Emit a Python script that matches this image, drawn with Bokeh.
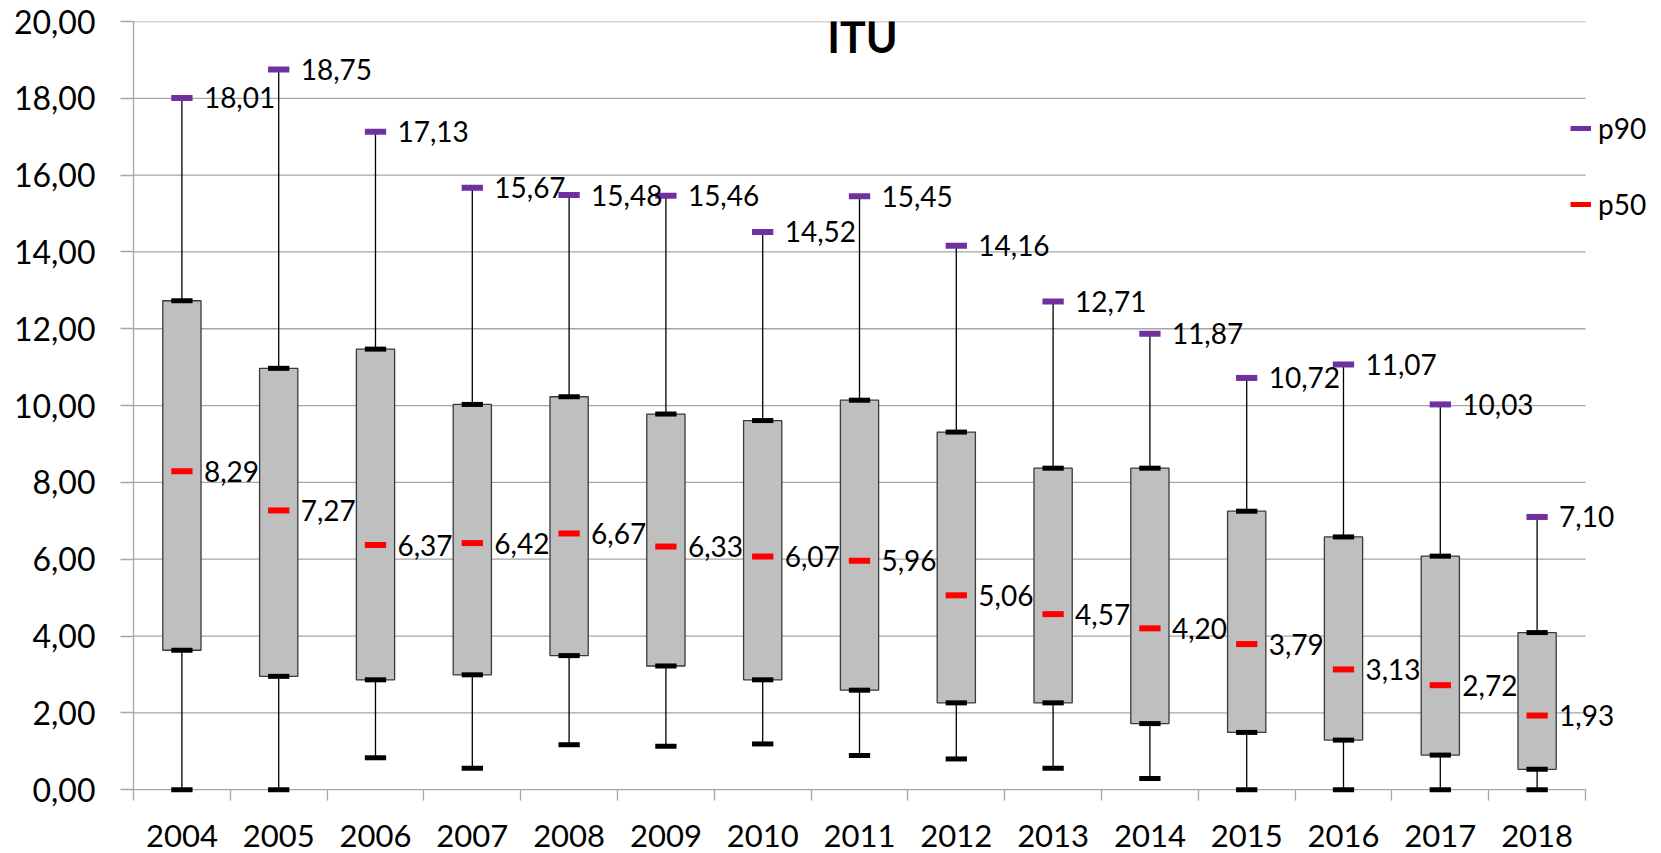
import numpy as np
from bokeh.plotting import figure
from bokeh.models import (ColumnDataSource, Range1d, FixedTicker, LabelSet, Label,
                          Legend, LegendItem)
from bokeh.core.properties import value
from bokeh.embed import file_html
from bokeh.resources import INLINE

# ---------------- data ----------------
years = ["2004", "2005", "2006", "2007", "2008", "2009", "2010", "2011",
         "2012", "2013", "2014", "2015", "2016", "2017", "2018"]
p_min = [0.00, 0.00, 0.83, 0.56, 1.17, 1.13, 1.19, 0.89, 0.80, 0.56, 0.29, 0.00, 0.00, 0.00, 0.00]
q1 = [3.63, 2.95, 2.86, 2.99, 3.49, 3.22, 2.86, 2.59, 2.26, 2.26, 1.72, 1.49, 1.29, 0.90, 0.53]
p50 = [8.29, 7.27, 6.37, 6.42, 6.67, 6.33, 6.07, 5.96, 5.06, 4.57, 4.20, 3.79, 3.13, 2.72, 1.93]
q3 = [12.73, 10.97, 11.47, 10.03, 10.23, 9.78, 9.61, 10.14, 9.31, 8.37, 8.37, 7.25, 6.58, 6.08, 4.09]
p90 = [18.01, 18.75, 17.13, 15.67, 15.48, 15.46, 14.52, 15.45, 14.16, 12.71, 11.87, 10.72, 11.07, 10.03, 7.10]
y_ticks = [0, 2, 4, 6, 8, 10, 12, 14, 16, 18, 20]
y_tick_labels = ["0,00", "2,00", "4,00", "6,00", "8,00", "10,00", "12,00",
                 "14,00", "16,00", "18,00", "20,00"]
title_text = "ITU"
legend_labels = ["p90", "p50"]

# ---------------- styles ----------------
FONT = "Lato"
GRID = "#a6a6a6"
PURPLE = "#7030a0"
RED = "#ff0000"
BOX = "#bfbfbf"


def fmt(v):
    return f"{v:.2f}".replace(".", ",")


n = len(years)
xc = np.arange(n) + 0.5
q1a, q3a = np.array(q1), np.array(q3)
src = ColumnDataSource(dict(
    x=xc, pmin=p_min, q1=q1, p50=p50, q3=q3, p90=p90,
    mid=(q1a + q3a) / 2, h=q3a - q1a,
    lab50=[fmt(v) for v in p50], lab90=[fmt(v) for v in p90],
))

W, H = 1661, 853
LEFT, TOP, BOTTOM = 133, 21, 60
# frame extends to the right canvas edge so labels/legend beyond the last category stay visible
x_end = n * (W - LEFT) / 1452.0

p = figure(width=W, height=H, x_range=Range1d(0, x_end), y_range=Range1d(-0.1, 20),
           output_backend="svg", toolbar_location=None,
           min_border_left=LEFT, min_border_right=0, min_border_top=TOP, min_border_bottom=BOTTOM)
p.outline_line_color = None
p.background_fill_color = "white"
p.border_fill_color = "white"

# grid drawn as segments limited to the category span
p.xgrid.grid_line_color = None
p.ygrid.grid_line_color = None
p.segment(x0=[0] * len(y_ticks), x1=[n] * len(y_ticks), y0=y_ticks, y1=y_ticks,
          line_color=GRID, line_width=1.3)

# y axis
p.yaxis.ticker = FixedTicker(ticks=y_ticks, minor_ticks=[])
p.yaxis.major_label_overrides = {t: l for t, l in zip(y_ticks, y_tick_labels)}
p.yaxis.axis_line_color = GRID
p.yaxis.axis_line_width = 1.3
p.yaxis.major_tick_line_color = GRID
p.yaxis.major_tick_line_width = 1.3
p.yaxis.major_tick_in = 0
p.yaxis.major_tick_out = 13
p.yaxis.minor_tick_line_color = None
p.yaxis.major_label_standoff = 25
p.yaxis.major_label_text_font = FONT
p.yaxis.major_label_text_font_size = "32px"
p.yaxis.major_label_text_color = "black"

# x axis: labels at category centres, tick marks at category boundaries
p.xaxis.ticker = FixedTicker(ticks=list(xc), minor_ticks=list(range(n + 1)))
p.xaxis.major_label_overrides = {float(x): y for x, y in zip(xc, years)}
p.xaxis.axis_line_color = None
p.xaxis.major_tick_line_color = None
p.xaxis.major_tick_in = 0
p.xaxis.major_tick_out = 0
p.xaxis.major_label_standoff = 24
p.xaxis.major_label_text_font = FONT
p.xaxis.major_label_text_font_size = "31px"
p.xaxis.major_label_text_color = "black"
p.xaxis.minor_tick_line_color = GRID
p.xaxis.minor_tick_line_width = 1.3
p.xaxis.minor_tick_in = 4
p.xaxis.minor_tick_out = 7

# whiskers
p.segment(x0="x", y0="pmin", x1="x", y1="p90", source=src, line_color="black", line_width=1.3)
# boxes
p.rect(x="x", y="mid", width=0.395, height="h", source=src,
       fill_color=BOX, line_color="#3a3a3a", line_width=1.3)
# caps
for col in ["pmin", "q1", "q3"]:
    p.rect(x="x", y=col, width=0.22, height=5, height_units="screen", source=src,
           fill_color="black", line_color=None)
p.rect(x="x", y="p50", width=0.22, height=6, height_units="screen", source=src,
       fill_color=RED, line_color=None)
p.rect(x="x", y="p90", width=0.22, height=6, height_units="screen", source=src,
       fill_color=PURPLE, line_color=None)

# data labels
for col, ycol in [("lab50", "p50"), ("lab90", "p90")]:
    p.add_layout(LabelSet(x="x", y=ycol, text=col, source=src, x_offset=22, y_offset=0,
                          text_align="left", text_baseline="middle",
                          text_font=value(FONT), text_font_size=value("28px"),
                          text_color="black"))

# title
p.add_layout(Label(x=7.53, y=19.6, text=title_text, text_align="center",
                   text_baseline="alphabetic", text_font=FONT, text_font_size="43px",
                   text_font_style="bold", text_color="black"))

# legend (two single-item legends to control positions)
r90 = p.line(x=[np.nan], y=[np.nan], line_color=PURPLE, line_width=5)
r50 = p.line(x=[np.nan], y=[np.nan], line_color=RED, line_width=5)
for lab, r, ypos in [(legend_labels[0], r90, 647), (legend_labels[1], r50, 571)]:
    lg = Legend(items=[LegendItem(label=lab, renderers=[r])], location=(1437, ypos),
                padding=0, margin=0, border_line_color=None, background_fill_alpha=0,
                glyph_width=21, glyph_height=36, label_height=36, label_standoff=7,
                label_text_font=FONT, label_text_font_size="28px", label_text_color="black")
    p.add_layout(lg, "center")

open("out.html", "w").write(file_html(p, INLINE))
